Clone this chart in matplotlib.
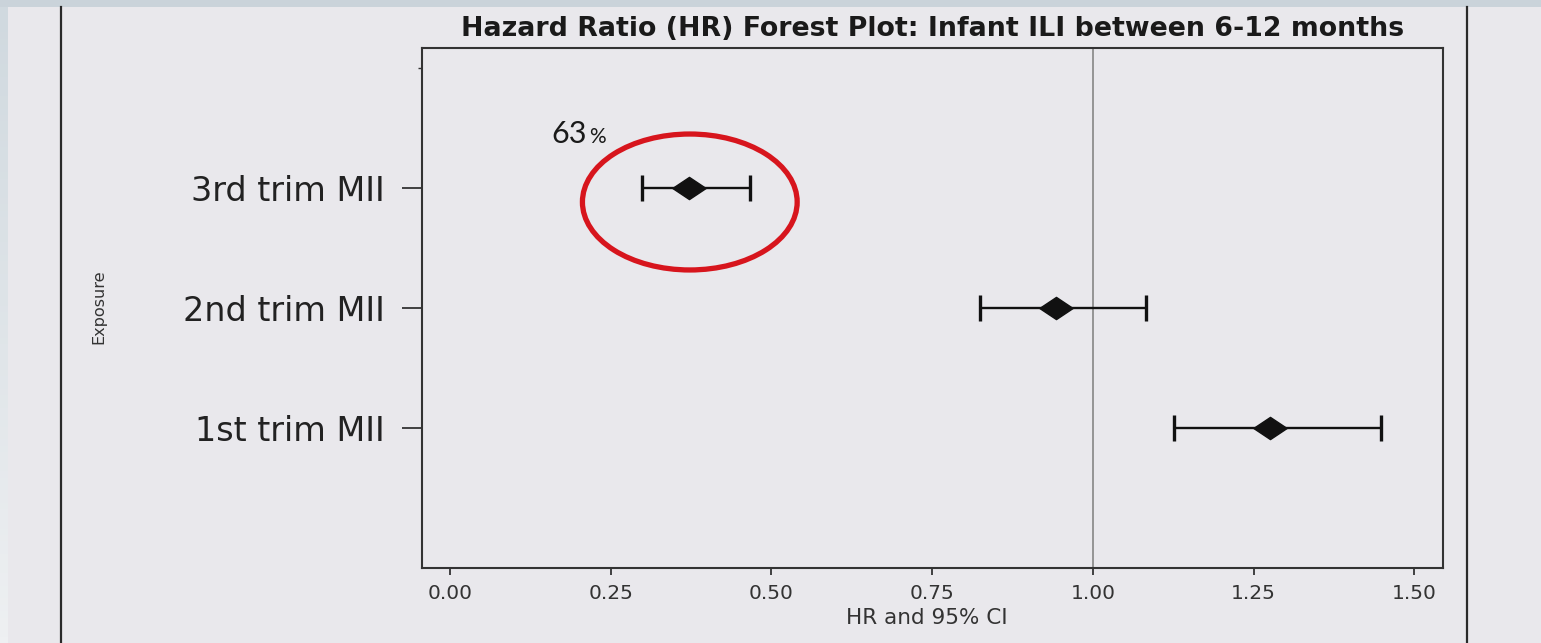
import matplotlib
matplotlib.use("Agg")
import matplotlib.pyplot as plt
import numpy as np
from matplotlib.path import Path
from matplotlib.patches import Ellipse, Rectangle
from matplotlib.lines import Line2D
from matplotlib.colors import LinearSegmentedColormap

# ---------------- data ----------------
exposures = ["1st trim MII", "2nd trim MII", "3rd trim MII"]
hr = [1.275, 0.942, 0.372]
ci_low = [1.126, 0.824, 0.298]
ci_high = [1.448, 1.083, 0.467]
xticks = [0.00, 0.25, 0.50, 0.75, 1.00, 1.25, 1.50]
xtick_labels = ["0.00", "0.25", "0.50", "0.75", "1.00", "1.25", "1.50"]
reference_hr = 1.0
title = "Hazard Ratio (HR) Forest Plot: Infant ILI between 6-12 months"
xlabel = "HR and 95% CI"
ylabel = "Exposure"
highlight_text = "63"
highlight_pct = "%"

# ---------------- figure ----------------
W, H = 1541, 643
BG = "#e9e8ec"
fig = plt.figure(figsize=(W / 100, H / 100), dpi=100, facecolor=BG)

# decorative slide edges
fig.patches.append(Rectangle((0, 1 - 7 / H), 1, 7 / H, transform=fig.transFigure,
                             facecolor="#cad3da", edgecolor="none", zorder=0))
gax = fig.add_axes([0, 0, 7 / W, 1 - 7 / H])
grad = np.linspace(0, 1, 100).reshape(-1, 1)
cmap = LinearSegmentedColormap.from_list("edge", ["#d0d9df", "#eef0f2"])
gax.imshow(grad, aspect="auto", cmap=cmap)
gax.set_axis_off()
for xp in (60.5, 1466.5):
    fig.lines.append(Line2D([xp / W, xp / W], [0, 1 - 7 / H], transform=fig.transFigure,
                            color="#2a2a2a", lw=1.6))

# main axes
L, R, T, B = 421.7, 1443.3, 48.3, 568.3
ax = fig.add_axes([L / W, 1 - B / H, (R - L) / W, (B - T) / H])
ax.set_facecolor(BG)
ax.set_xlim(-0.044, 1.545)
ax.set_ylim(-0.167, 4.167)

ypos = np.arange(1, len(exposures) + 1)
ax.axvline(reference_hr, color="#7d7d7d", lw=1.1, zorder=1)
ax.errorbar(hr, ypos,
            xerr=[np.subtract(hr, ci_low), np.subtract(ci_high, hr)],
            fmt="none", ecolor="#111111", elinewidth=1.7, capsize=9.7,
            capthick=2.4, zorder=2)
diamond = Path([(-1.5, 0), (0, 1), (1.5, 0), (0, -1), (-1.5, 0)],
               [Path.MOVETO, Path.LINETO, Path.LINETO, Path.LINETO, Path.CLOSEPOLY])
ax.plot(hr, ypos, linestyle="none", marker=diamond, markersize=24,
        color="#111111", zorder=3)

# highlight ellipse and annotation
ax.add_patch(Ellipse((0.373, 2.886), width=0.334, height=1.133, fill=False,
                     edgecolor="#d7151d", lw=3.8, clip_on=False, zorder=4))
ax.text(0.158, 3.375, highlight_text, fontsize=22, family="Lato",
        color="#1a1a1a", va="baseline", ha="left")
ax.text(0.217, 3.375, highlight_pct, fontsize=15, family="Lato",
        color="#1a1a1a", va="baseline", ha="left")

# spines
for s in ax.spines.values():
    s.set_color("#333333")
    s.set_linewidth(1.5)

# ticks
ax.set_yticks(ypos, exposures)
ax.set_yticks([4], minor=True)
ax.tick_params(axis="y", which="major", length=14.4, width=1.3, pad=12,
               labelsize=24, colors="#333333", labelcolor="#222222")
ax.tick_params(axis="y", which="minor", length=3, width=1, colors="#333333")
ax.set_xticks(xticks, xtick_labels)
ax.tick_params(axis="x", length=5, width=1.3, pad=6, labelsize=14.5,
               colors="#333333", labelcolor="#333333")
for lab in ax.get_xticklabels() + ax.get_yticklabels():
    lab.set_family("DejaVu Sans")

# labels
ax.set_xlabel(xlabel, fontsize=15.5, color="#333333", va="center")
ax.xaxis.set_label_coords((927 - L) / (R - L), (B - 618) / (B - T))
ax.set_ylabel(ylabel, fontsize=11.6, color="#333333", va="center")
ax.yaxis.set_label_coords((99 - L) / (R - L), (B - 307) / (B - T))

fig.text((L + R) / 2 / W, 1 - 29 / H, title, ha="center", va="center",
         fontsize=19.3, fontweight="bold", color="#1a1a1a")

fig.savefig("out.png", dpi=100, facecolor=BG)
